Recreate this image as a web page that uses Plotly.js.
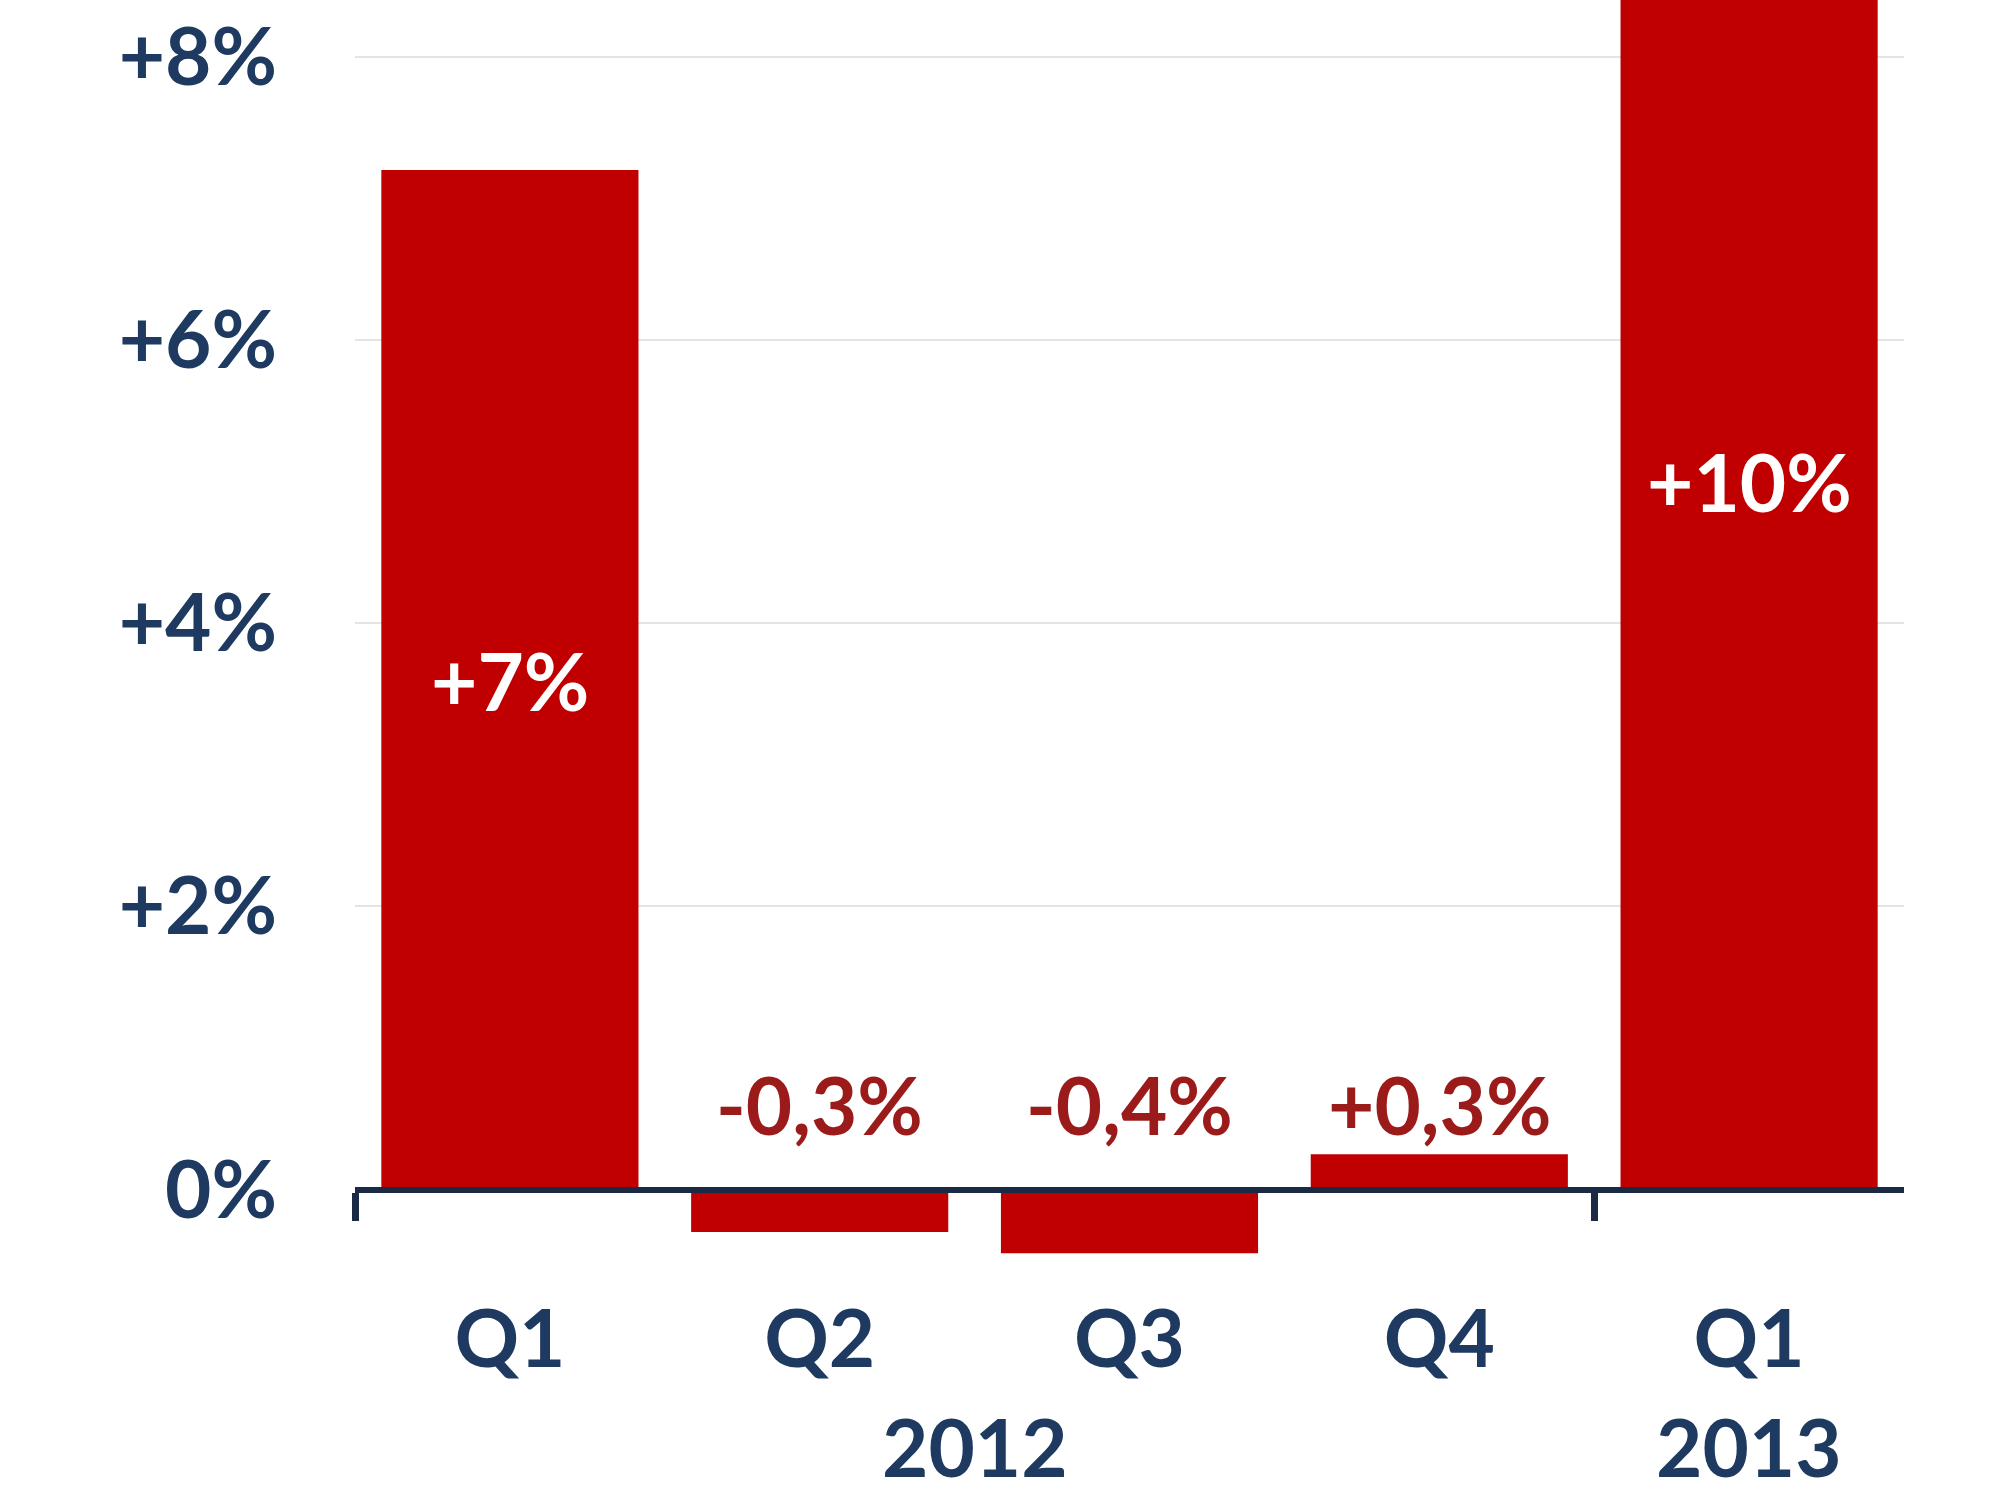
<!DOCTYPE html>
<html>
<head>
<meta charset="utf-8">
<script src="https://cdn.plot.ly/plotly-3.0.1.min.js"></script>
<style>html,body{margin:0;padding:0;background:#fff;}#chart{width:2000px;height:1500px;}</style>
</head>
<body>
<div id="chart"></div>
<script>
// ---- data ----
const quarters = ['Q1', 'Q2', 'Q3', 'Q4', 'Q1'];
const years = ['2012', '2012', '2012', '2012', '2013'];
const growth = [7.2, -0.3, -0.45, 0.25, 10];
const dataLabels = ['+7%', '-0,3%', '-0,4%', '+0,3%', '+10%'];
const yTickValues = [0, 2, 4, 6, 8];
const yTickLabels = ['0%', '+2%', '+4%', '+6%', '+8%'];

// ---- styling ----
const NAVY = '#1f3a60';
const AXIS = '#1b2a44';
const RED = '#c00000';
const DARKRED = '#9b1a1a';
const FONT = 'Lato, "Open Sans", sans-serif';
const FS = 80;
const yMin = -0.78, yMax = 8.40;

const idx = quarters.map((_, i) => i);

// year group centers and boundaries
const yearNames = [...new Set(years)];
const yearCenters = yearNames.map(y => {
  const ii = idx.filter(i => years[i] === y);
  return ii.reduce((a, b) => a + b, 0) / ii.length;
});
const boundaries = [-0.5];
for (let i = 1; i < years.length; i++) {
  if (years[i] !== years[i - 1]) boundaries.push(i - 0.5);
}

const zeroPos = (0 - yMin) / (yMax - yMin);

const traces = [
  {
    type: 'bar',
    x: idx,
    y: growth,
    marker: {color: RED, line: {width: 0}},
    hoverinfo: 'skip',
    showlegend: false
  },
  {
    type: 'scatter',
    mode: 'markers',
    x: [boundaries[0]],
    y: [0],
    xaxis: 'x2',
    yaxis: 'y',
    marker: {opacity: 0},
    hoverinfo: 'skip',
    showlegend: false
  }
];

const annotations = [];
growth.forEach((v, i) => {
  const inside = Math.abs(v) > 1;
  annotations.push({
    x: i, xref: 'x',
    y: inside ? v / 2 : 0, yref: 'y',
    text: dataLabels[i],
    showarrow: false,
    xanchor: 'center',
    yanchor: 'middle',
    yshift: inside ? 0 : 86,
    font: {family: FONT, size: FS, weight: 'bold', color: inside ? '#ffffff' : DARKRED}
  });
});
yearNames.forEach((y, k) => {
  annotations.push({
    x: yearCenters[k], xref: 'x',
    y: 0, yref: 'paper',
    yshift: -146,
    text: y,
    showarrow: false,
    xanchor: 'center', yanchor: 'middle',
    font: {family: FONT, size: FS, weight: 'bold', color: NAVY}
  });
});

const layout = {
  width: 2000,
  height: 1500,
  margin: {l: 355, r: 96, t: 0, b: 200, pad: 0},
  paper_bgcolor: '#ffffff',
  plot_bgcolor: '#ffffff',
  bargap: 0.17,
  showlegend: false,
  xaxis: {
    type: 'linear',
    range: [-0.5, 4.5],
    tickmode: 'array',
    tickvals: idx,
    ticktext: quarters,
    ticks: '',
    ticklabelstandoff: -14,
    showline: false,
    showgrid: false,
    zeroline: false,
    tickfont: {family: FONT, size: FS, weight: 'bold', color: NAVY},
    fixedrange: true
  },
  xaxis2: {
    type: 'linear',
    overlaying: 'x',
    anchor: 'free',
    position: zeroPos,
    range: [-0.5, 4.5],
    tickmode: 'array',
    tickvals: boundaries,
    ticks: 'outside',
    ticklen: 28,
    tickwidth: 7,
    tickcolor: AXIS,
    showticklabels: false,
    showline: true,
    linecolor: AXIS,
    linewidth: 6,
    showgrid: false,
    zeroline: false
  },
  yaxis: {
    range: [yMin, yMax],
    tickmode: 'array',
    tickvals: yTickValues,
    ticktext: yTickLabels,
    ticks: 'outside',
    ticklen: 61,
    tickcolor: 'rgba(0,0,0,0)',
    showgrid: true,
    gridcolor: '#e4e4e4',
    gridwidth: 2,
    zeroline: false,
    showline: false,
    tickfont: {family: FONT, size: FS, weight: 'bold', color: NAVY},
    fixedrange: true
  },
  annotations: annotations
};

Plotly.newPlot('chart', traces, layout, {displayModeBar: false, staticPlot: true});
</script>
</body>
</html>
